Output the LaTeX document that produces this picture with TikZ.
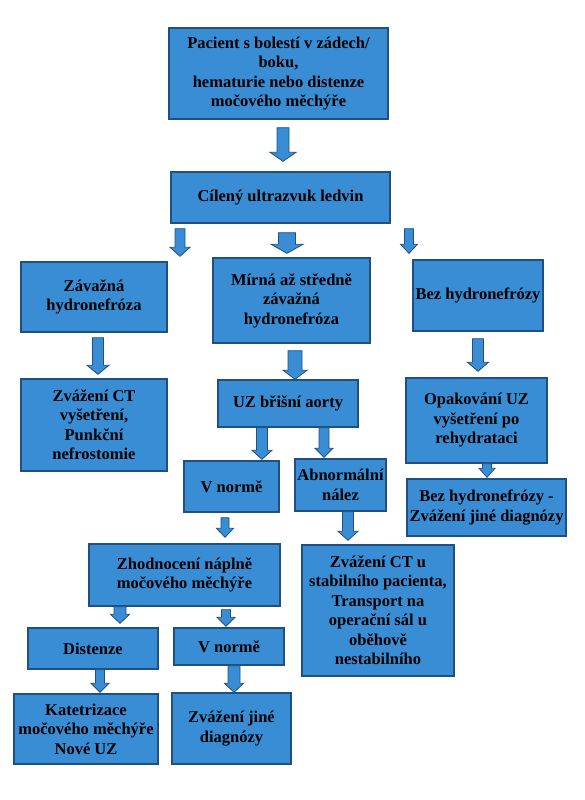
\documentclass[tikz,border=0pt]{standalone}
\usepackage{fontspec}
\setmainfont{Liberation Serif}
\usetikzlibrary{calc}

\definecolor{modra}{RGB}{56,141,212}
\definecolor{okraj}{RGB}{32,80,130}

% sipka mezi dvema bloky: od, do, x, mezera nahore, mezera dole, pul drieku, pul hrotu
\newcommand{\sipka}[7]{%
  \draw[sipkablok] let \p1=(#1.south), \p2=(#2.north) in
    ({#3pt-#6pt}, {\y1-#4pt}) -- ({#3pt+#6pt}, {\y1-#4pt})
    -- ({#3pt+#6pt}, {\y2+#5pt+9pt}) -- ({#3pt+#7pt}, {\y2+#5pt+9pt})
    -- ({#3pt}, {\y2+#5pt}) -- ({#3pt-#7pt}, {\y2+#5pt+9pt})
    -- ({#3pt-#6pt}, {\y2+#5pt+9pt}) -- cycle;}

\begin{document}
\begin{tikzpicture}[x=1pt, y=-1pt,
    blok/.style={rectangle, draw=okraj, line width=1.4pt, fill=modra, align=center,
      inner sep=1pt, font=\fontsize{16.5}{19.5}\selectfont\bfseries},
    sipkablok/.style={draw=okraj, line width=0.8pt, fill=modra, line join=miter}]
    \useasboundingbox (0,0) rectangle (584,800);

    \node[blok, minimum width=219pt, minimum height=91pt] (pac) at (278.5, 73.5) {Pacient s bolestí v zádech/\\ boku,\\ hematurie nebo distenze\\ močového měchýře};
    \node[blok, minimum width=219pt, minimum height=51pt] (cil) at (280.5, 197.5) {Cílený ultrazvuk ledvin};

    \node[blok, minimum width=146pt, minimum height=70pt] (zav) at (94, 297) {Závažná\\ hydronefróza};
    \node[blok, minimum width=157pt, minimum height=85pt] (mir) at (291.5, 300.5) {Mírná až středně\\ závažná\\ hydronefróza};
    \node[blok, minimum width=130pt, minimum height=71pt] (bez) at (478, 295.5) {Bez hydronefrózy};

    \node[blok, minimum width=146pt, minimum height=92pt] (zct) at (94, 425) {Zvážení CT\\ vyšetření,\\ Punkční\\ nefrostomie};
    \node[blok, minimum width=140pt, minimum height=47pt] (uzb) at (288, 403.5) {UZ břišní aorty};
    \node[blok, minimum width=141pt, minimum height=85pt] (opa) at (476.5, 420.5) {Opakování UZ\\ vyšetření po\\ rehydrataci};

    \node[blok, minimum width=95pt, minimum height=51pt] (vn1) at (231.5, 486.5) {V normě};
    \node[blok, minimum width=91pt, minimum height=52pt] (abn) at (340.5, 485) {Abnormální\\ nález};
    \node[blok, minimum width=159pt, minimum height=57pt] (bzj) at (486.5, 507.5) {Bez hydronefrózy -\\ Zvážení jiné diagnózy};

    \node[blok, minimum width=191pt, minimum height=62pt] (zho) at (184.5, 575) {Zhodnocení náplně\\ močového měchýře};
    \node[blok, minimum width=152pt, minimum height=131pt] (zcs) at (378, 610.5) {Zvážení CT u\\ stabilního pacienta,\\ Transport na\\ operační sál u\\ oběhově\\ nestabilního};

    \node[blok, minimum width=130pt, minimum height=41pt] (dis) at (93, 648.5) {Distenze};
    \node[blok, minimum width=110pt, minimum height=37pt] (vn2) at (229, 646.5) {V normě};
    \node[blok, minimum width=144pt, minimum height=70pt] (kat) at (86, 729) {Katetrizace\\ močového měchýře\\ Nové UZ};
    \node[blok, minimum width=119pt, minimum height=71pt] (zjd) at (231.5, 728.5) {Zvážení jiné\\ diagnózy};

    % sipky
    \sipka{pac}{cil}{283}{8}{10}{6}{13}
    \sipka{cil}{zav}{180}{5}{5}{5}{10}
    \sipka{cil}{mir}{287}{9}{4}{8.5}{16}
    \sipka{cil}{bez}{409}{5}{6}{4.5}{8.5}
    \sipka{zav}{zct}{98}{5}{4}{5.5}{11}
    \sipka{mir}{uzb}{295}{7}{0}{7}{12}
    \sipka{bez}{opa}{478}{7}{6}{5.5}{10.5}
    \sipka{uzb}{vn1}{262}{0}{1}{5.5}{10}
    \sipka{uzb}{abn}{324}{0}{1}{5}{9}
    \sipka{opa}{bzj}{487}{0}{1}{4.5}{8}
    \sipka{vn1}{zho}{225}{5}{6}{4}{8.5}
    \sipka{abn}{zcs}{348}{0}{4}{5.5}{10}
    \sipka{zho}{dis}{120}{0}{4}{6}{9.5}
    \sipka{zho}{vn2}{226}{3}{1}{4.5}{9}
    \sipka{dis}{kat}{100}{0}{1}{4.5}{9}
    \sipka{vn2}{zjd}{234}{0}{0}{6}{9.5}
\end{tikzpicture}
\end{document}
